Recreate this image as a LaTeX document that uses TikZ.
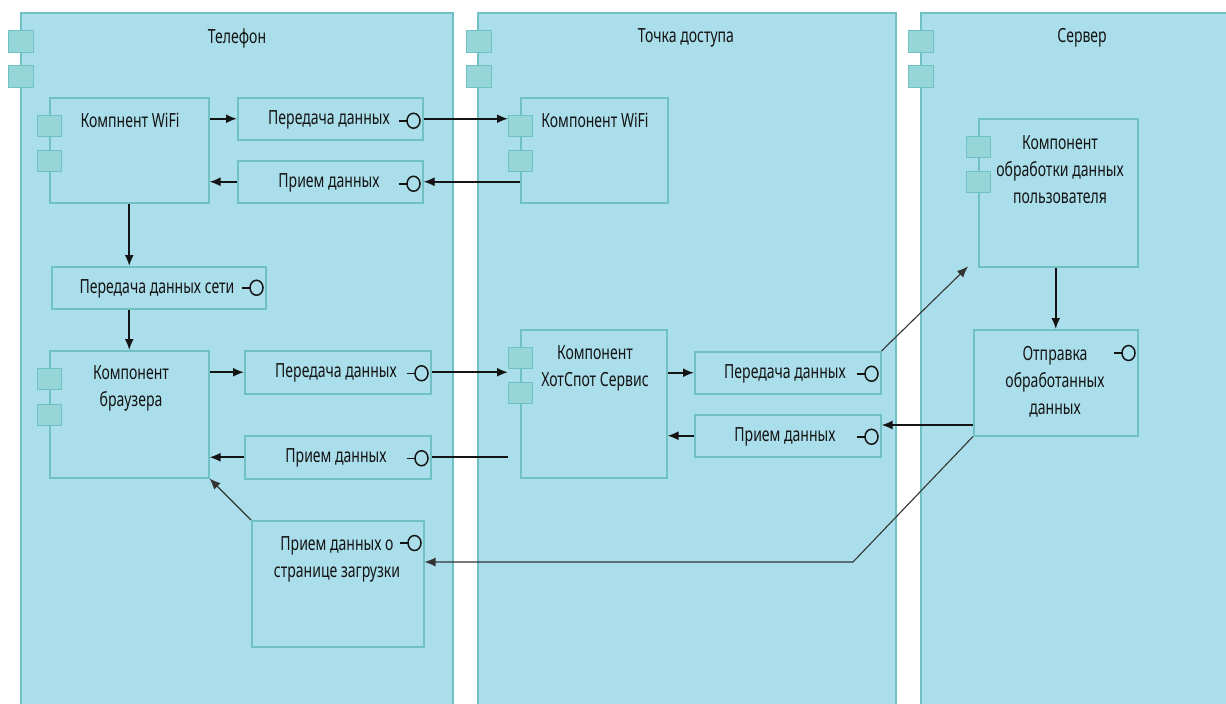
\documentclass[tikz,border=0pt]{standalone}
\usepackage{fontspec}
\setmainfont{Noto Sans}[FakeStretch=0.72]
\usetikzlibrary{arrows.meta}
\definecolor{bgc}{HTML}{AADEEA}
\definecolor{bord}{HTML}{6FC1C3}
\definecolor{portc}{HTML}{96D6D9}
\definecolor{ink}{HTML}{141414}
\newcommand\lolli[2]{%
  \coordinate (lc) at ([xshift=-10pt,yshift=#2pt]#1);
  \draw[lolline] ([xshift=-15pt]lc) -- ([xshift=-6.5pt]lc);
  \draw[lolline] (lc) ellipse [x radius=6.5pt, y radius=7.5pt];}
\tikzset{
  cont/.style={draw=bord, fill=bgc, line width=1.5pt, rectangle, inner sep=0pt, anchor=north west},
  port/.style={draw=bord, fill=portc, line width=1.4pt, rectangle, inner sep=0pt, anchor=north west, minimum width=24pt, minimum height=21pt},
  lbl/.style={font=\fontsize{19.5}{27}\selectfont, align=center, text=ink, inner sep=0pt},
  arr/.style={-{Latex[length=11pt,width=9pt]}, line width=1.8pt, draw=ink},
  thinarr/.style={-{Latex[length=11pt,width=9pt]}, line width=1.1pt, draw=black!80},
  lolline/.style={line width=1.5pt, draw=ink},
}
\begin{document}
\begin{tikzpicture}[x=1pt,y=-1pt]
\useasboundingbox (0,0) rectangle (1226,704);
\clip (0,0) rectangle (1226,704);
\fill[white] (0,0) rectangle (1226,704);
% containers
\node[cont, minimum width=432pt, minimum height=710pt] (tel) at (20,12) {};
\node[cont, minimum width=418pt, minimum height=710pt] (ap) at (477,12) {};
\node[cont, minimum width=330pt, minimum height=710pt] (srv) at (920,12) {};
\node[port, minimum width=25pt, minimum height=22pt] (telp1) at (8,30) {};
\node[port, minimum width=25pt, minimum height=22pt] (telp2) at (8,65) {};
\node[port, minimum width=25pt, minimum height=22pt] (app1) at (466,30) {};
\node[port, minimum width=25pt, minimum height=22pt] (app2) at (466,65) {};
\node[port, minimum width=25pt, minimum height=22pt] (srvp1) at (908,30) {};
\node[port, minimum width=25pt, minimum height=22pt] (srvp2) at (908,65) {};
\node[lbl] (telT) at (237,38) {Телефон};
\node[lbl] (apT) at (686,38) {Точка доступа};
\node[lbl] (srvT) at (1082,38) {Сервер};
% phone
\node[cont, minimum width=159pt, minimum height=105pt] (wifi) at (49,97) {};
\node[port] (wifip1) at (37,115) {};
\node[port] (wifip2) at (37,150) {};
\node[lbl] (wifiT) at (130,120) {Компнент WiFi};
\node[cont, minimum width=185pt, minimum height=42pt] (pd1) at (237,97) {};
\node[lbl] (pd1T) at (329,120) {Передача данных};
\node[cont, minimum width=185pt, minimum height=42pt] (pr1) at (237,160) {};
\node[lbl] (pr1T) at (329,183) {Прием данных};
\node[cont, minimum width=214pt, minimum height=42pt] (pds) at (51,266) {};
\node[lbl] (pdsT) at (157,289) {Передача данных сети};
\node[cont, minimum width=159pt, minimum height=127pt] (brow) at (49,350) {};
\node[port] (browp1) at (37,368) {};
\node[port] (browp2) at (37,404) {};
\node[lbl] (browT) at (131,388) {Компонент\\браузера};
\node[cont, minimum width=186pt, minimum height=43pt] (pd2) at (244,350) {};
\node[lbl] (pd2T) at (336,373) {Передача данных};
\node[cont, minimum width=186pt, minimum height=43pt] (pr2) at (244,435) {};
\node[lbl] (pr2T) at (336,458) {Прием данных};
\node[cont, minimum width=172pt, minimum height=126pt] (pzd) at (251,520) {};
\node[lbl] (pzdT) at (337,559) {Прием данных о\\странице загрузки};
% access point
\node[cont, minimum width=147pt, minimum height=105pt] (apwifi) at (520,97) {};
\node[port] (apwifip1) at (508,115) {};
\node[port] (apwifip2) at (508,150) {};
\node[lbl] (apwifiT) at (595,120) {Компонент WiFi};
\node[cont, minimum width=146pt, minimum height=148pt] (hs) at (520,329) {};
\node[port] (hsp1) at (508,347) {};
\node[port] (hsp2) at (508,382) {};
\node[lbl] (hsT) at (595,368) {Компонент\\ХотСпот Сервис};
\node[cont, minimum width=186pt, minimum height=42pt] (pd3) at (694,351) {};
\node[lbl] (pd3T) at (785,374) {Передача данных};
\node[cont, minimum width=186pt, minimum height=42pt] (pr3) at (694,414) {};
\node[lbl] (pr3T) at (785,437) {Прием данных};
% server
\node[cont, minimum width=159pt, minimum height=148pt] (ob) at (978,118) {};
\node[port] (obp1) at (966,136) {};
\node[port] (obp2) at (966,171) {};
\node[lbl] (obT) at (1060,170) {Компонент\\обработки данных\\пользователя};
\node[cont, minimum width=164pt, minimum height=106pt] (ot) at (973,329) {};
\node[lbl] (otT) at (1055,382) {Отправка\\обработанных\\данных};
% lollipops
\lolli{pd1.east}{-2}
\lolli{pr1.east}{-2}
\lolli{pds.east}{0}
\lolli{pd2.east}{-1}
\lolli{pr2.east}{-1}
\lolli{pd3.east}{-1}
\lolli{pr3.east}{-1}
\lolli{pzd.north east}{-23}
\lolli{ot.north east}{-24}
% connectors
\coordinate (bend) at (853,562);
\coordinate (otarr) at (973,425);
\draw[arr] (wifi.east |- pd1.west) -- (pd1.west);
\draw[arr] (pd1.east) -- (apwifip1.west |- pd1.east);
\draw[arr] (apwifi.west |- pr1.east) -- (pr1.east);
\draw[arr] (pr1.west) -- (wifi.east |- pr1.west);
\draw[arr] (wifi.south) -- (wifi.south |- pds.north);
\draw[arr] (wifi.south |- pds.south) -- (wifi.south |- brow.north);
\draw[arr] (brow.east |- pd2.west) -- (pd2.west);
\draw[arr] (pd2.east) -- (hsp1.west |- pd2.east);
\draw[line width=1.8pt, draw=ink] (hsp1.west |- pr2.east) -- (pr2.east);
\draw[arr] (pr2.west) -- (brow.east |- pr2.west);
\draw[arr] (hs.east |- pd3.west) -- (pd3.west);
\draw[arr] (pr3.west) -- (hs.east |- pr3.west);
\draw[thinarr] (pd3.north east) -- ([xshift=-10pt,yshift=1pt]ob.south west);
\draw[arr] (otarr) -- (pr3.east |- otarr);
\draw[thinarr] (ot.south west) -- (bend) -- (pzd.east |- bend);
\draw[thinarr] (pzd.north west) -- (brow.south east);
\draw[arr] (ot.north |- ob.south) -- (ot.north);
\end{tikzpicture}
\end{document}
